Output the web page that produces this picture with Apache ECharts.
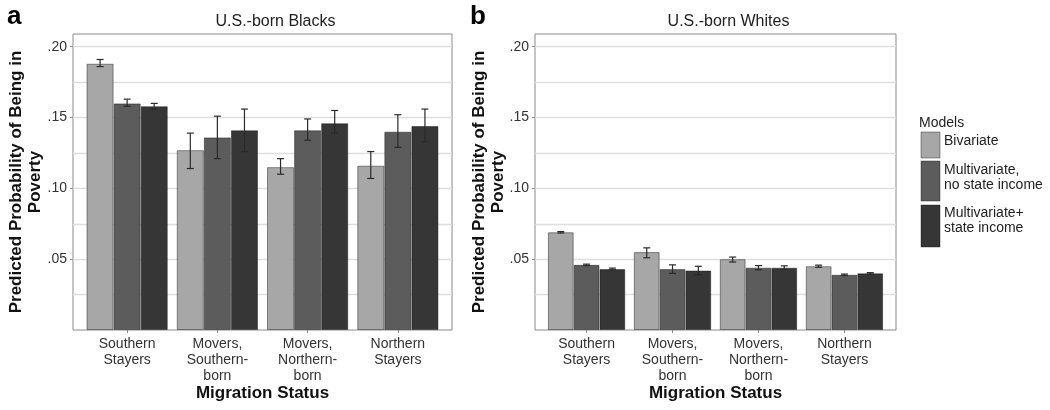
<!DOCTYPE html>
<html>
<head>
<meta charset="utf-8">
<script src="https://cdn.jsdelivr.net/npm/echarts@6/dist/echarts.min.js"></script>
<style>html,body{margin:0;padding:0;background:#fff;}#c{width:1050px;height:410px;}</style>
</head>
<body>
<div id="c"></div>
<script>
var categories = ['Southern\nStayers', 'Movers,\nSouthern-\nborn', 'Movers,\nNorthern-\nborn', 'Northern\nStayers'];
var categoryPositions = [1, 2, 3, 4];
var seriesNames = ['Bivariate', 'Multivariate,\nno state income', 'Multivariate+\nstate income'];
var panelTitles = ['U.S.-born Blacks', 'U.S.-born Whites'];
var panelLetters = ['a', 'b'];
var yTickValues = [0.05, 0.10, 0.15, 0.20];

// Panel a: U.S.-born Blacks
var blacksBivariate = [0.188, 0.127, 0.115, 0.116];
var blacksBivariateLow = [0.186, 0.114, 0.110, 0.107];
var blacksBivariateHigh = [0.191, 0.139, 0.121, 0.126];
var blacksMultiNoState = [0.160, 0.136, 0.141, 0.140];
var blacksMultiNoStateLow = [0.158, 0.121, 0.134, 0.129];
var blacksMultiNoStateHigh = [0.163, 0.151, 0.149, 0.152];
var blacksMultiState = [0.158, 0.141, 0.146, 0.144];
var blacksMultiStateLow = [0.156, 0.126, 0.139, 0.133];
var blacksMultiStateHigh = [0.160, 0.156, 0.155, 0.156];

// Panel b: U.S.-born Whites
var whitesBivariate = [0.069, 0.055, 0.050, 0.045];
var whitesBivariateLow = [0.0685, 0.051, 0.048, 0.0443];
var whitesBivariateHigh = [0.0695, 0.058, 0.0515, 0.0458];
var whitesMultiNoState = [0.046, 0.043, 0.044, 0.039];
var whitesMultiNoStateLow = [0.0455, 0.040, 0.0425, 0.0385];
var whitesMultiNoStateHigh = [0.0465, 0.046, 0.0455, 0.0395];
var whitesMultiState = [0.043, 0.042, 0.044, 0.040];
var whitesMultiStateLow = [0.0425, 0.039, 0.0428, 0.0395];
var whitesMultiStateHigh = [0.0437, 0.045, 0.0453, 0.0405];

var colors = ['#a7a7a7', '#5c5c5c', '#363636'];

var panels = [
  {vals: [blacksBivariate, blacksMultiNoState, blacksMultiState],
   lows: [blacksBivariateLow, blacksMultiNoStateLow, blacksMultiStateLow],
   highs: [blacksBivariateHigh, blacksMultiNoStateHigh, blacksMultiStateHigh]},
  {vals: [whitesBivariate, whitesMultiNoState, whitesMultiState],
   lows: [whitesBivariateLow, whitesMultiNoStateLow, whitesMultiStateLow],
   highs: [whitesBivariateHigh, whitesMultiNoStateHigh, whitesMultiStateHigh]}
];

var FONT = '"Liberation Sans", Arial, sans-serif';
var gapPct = 0.10;
var grids = [
  {left: 73, top: 34, width: 379, height: 296, show: true, borderColor: '#8a8a8a', borderWidth: 1, backgroundColor: '#fff', outerBoundsMode: 'none', containLabel: false},
  {left: 535, top: 34, width: 361, height: 296, show: true, borderColor: '#8a8a8a', borderWidth: 1, backgroundColor: '#fff', outerBoundsMode: 'none', containLabel: false}
];
var xAxes = [], yAxes = [], series = [], titles = [];
var nameGaps = [28, 27];

function fmtY(v) {
  var k = Math.round(v * 1000);
  if (k <= 0 || k % 50 !== 0 || Math.abs(v * 1000 - k) > 1e-6) return '';
  return '.' + String(Math.round(v * 100)).padStart(2, '0');
}
function fmtX(v) {
  var i = categoryPositions.indexOf(Math.round(v));
  return i >= 0 ? categories[i] : '';
}

grids.forEach(function (g, p) {
  xAxes.push({
    type: 'value', gridIndex: p, min: 0.4, max: 4.6,
    axisLine: {show: false},
    splitLine: {show: false},
    axisTick: {show: true, length: 3, lineStyle: {color: '#8a8a8a'}, customValues: categoryPositions},
    axisLabel: {color: '#333', fontFamily: FONT, fontSize: 14, lineHeight: 16, margin: 6,
      customValues: categoryPositions, formatter: fmtX},
    name: 'Migration Status', nameLocation: 'middle', nameGap: 55, nameMoveOverlap: false,
    nameTextStyle: {fontFamily: FONT, fontSize: 17, fontWeight: 'bold', color: '#111'}
  });
  yAxes.push({
    type: 'value', gridIndex: p, min: 0, max: 0.209, interval: 0.05,
    axisLine: {show: false},
    axisTick: {show: true, length: 3, lineStyle: {color: '#8a8a8a'}, customValues: yTickValues},
    minorTick: {show: false, splitNumber: 2},
    minorSplitLine: {show: true, lineStyle: {color: '#dedede', width: 1.3}},
    axisLabel: {color: '#333', fontFamily: FONT, fontSize: 14, margin: 6, formatter: fmtY, showMaxLabel: false},
    splitLine: {show: true, lineStyle: {color: '#dedede', width: 1.3}},
    name: 'Predicted Probability of Being in\nPoverty', nameLocation: 'middle', nameRotate: 90, nameGap: nameGaps[p],
    nameMoveOverlap: false,
    nameTextStyle: {fontFamily: FONT, fontSize: 17, fontWeight: 'bold', color: '#111', lineHeight: 19, align: 'center'}
  });
  titles.push({
    text: panelTitles[p], left: g.left + g.width / 2 + 8, top: 9, textAlign: 'center',
    textStyle: {fontFamily: FONT, fontSize: 16, fontWeight: 'normal', color: '#222'}
  });
  var pd = panels[p];
  for (var s = 0; s < 3; s++) {
    series.push({
      type: 'bar', name: seriesNames[s], xAxisIndex: p, yAxisIndex: p,
      data: pd.vals[s].map(function (v, i) { return [categoryPositions[i], v]; }),
      barGap: '0%', barCategoryGap: (gapPct * 100) + '%',
      itemStyle: {color: colors[s], borderColor: 'rgba(20,20,20,0.45)', borderWidth: 1},
      silent: true, animation: false
    });
  }
  for (var s2 = 0; s2 < 3; s2++) {
    (function (si) {
      var errData = pd.vals[si].map(function (v, i) { return [categoryPositions[i], pd.lows[si][i], pd.highs[si][i]]; });
      series.push({
        type: 'custom', xAxisIndex: p, yAxisIndex: p, data: errData, z: 5, silent: true, animation: false,
        renderItem: function (params, api) {
          var ci = api.value(0);
          var lo = api.coord([ci, api.value(1)]);
          var hi = api.coord([ci, api.value(2)]);
          var band = api.size([1, 0])[0];
          var barW = band * (1 - gapPct) / 3;
          var x = lo[0] + (si - 1) * barW;
          var cap = 3.5;
          var st = {stroke: '#2a2a2a', lineWidth: 1.2, fill: null};
          return {type: 'group', children: [
            {type: 'line', shape: {x1: x, y1: lo[1], x2: x, y2: hi[1]}, style: st},
            {type: 'line', shape: {x1: x - cap, y1: lo[1], x2: x + cap, y2: lo[1]}, style: st},
            {type: 'line', shape: {x1: x - cap, y1: hi[1], x2: x + cap, y2: hi[1]}, style: st}
          ]};
        }
      });
    })(s2);
  }
});

var legendItems = [
  {y: 132, h: 26, ty: 141},
  {y: 161, h: 40, ty: 178},
  {y: 205, h: 42, ty: 221}
];
var graphics = [
  {type: 'text', left: 7, top: 4, style: {text: panelLetters[0], font: 'bold 26px ' + FONT, fill: '#000'}},
  {type: 'text', left: 470, top: 4, style: {text: panelLetters[1], font: 'bold 26px ' + FONT, fill: '#000'}},
  {type: 'text', x: 919, y: 123, style: {text: 'Models', font: '14px ' + FONT, fill: '#222', verticalAlign: 'middle'}}
];
legendItems.forEach(function (it, i) {
  graphics.push({type: 'rect', shape: {x: 921, y: it.y, width: 19, height: it.h},
    style: {fill: colors[i], stroke: 'rgba(20,20,20,0.4)', lineWidth: 1}});
  graphics.push({type: 'text', x: 944, y: it.ty,
    style: {text: seriesNames[i], font: '14px ' + FONT, fill: '#222', verticalAlign: 'middle', lineHeight: 15}});
});

var chart = echarts.init(document.getElementById('c'), null, {renderer: 'canvas'});
chart.setOption({
  animation: false,
  backgroundColor: '#fff',
  title: titles,
  grid: grids,
  xAxis: xAxes,
  yAxis: yAxes,
  series: series,
  graphic: graphics
});
</script>
</body>
</html>
